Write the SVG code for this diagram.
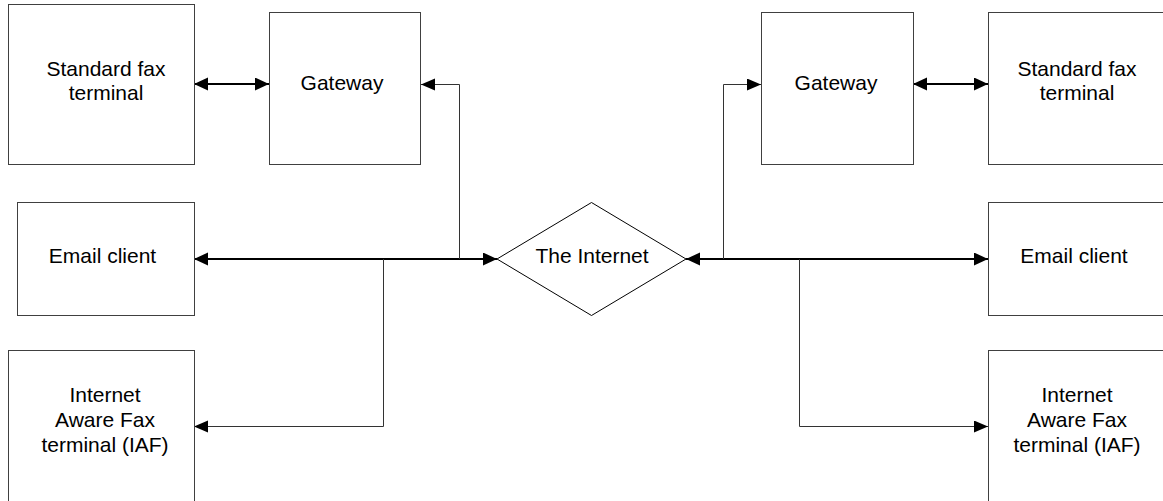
<svg xmlns="http://www.w3.org/2000/svg" width="1163" height="501" viewBox="0 0 1163 501">
<style>
.box{fill:#fff;stroke:#404040;stroke-width:1}
.lbl{font-family:"Liberation Sans",Arial,sans-serif;font-size:21px;fill:#000;text-anchor:middle}
.thick{fill:none;stroke:#000;stroke-width:2}
.thin{fill:none;stroke:#333;stroke-width:1}
</style>
<defs>
<marker id="ah" markerUnits="userSpaceOnUse" markerWidth="15" markerHeight="14" refX="14" refY="6.5" orient="auto-start-reverse" viewBox="0 0 15 14">
<path d="M0,0 L14,6.5 L0,13 Z" fill="#000"/>
</marker>
<marker id="ahs" markerUnits="userSpaceOnUse" markerWidth="15" markerHeight="14" refX="14" refY="6" orient="auto-start-reverse" viewBox="0 0 15 14">
<path d="M0,0 L14,6 L0,12 Z" fill="#000"/>
</marker>
</defs>
<rect width="1163" height="501" fill="#fff"/>
<g id="connectors">
<line class="thick" x1="194" y1="84" x2="269" y2="84" marker-start="url(#ah)" marker-end="url(#ah)"/>
<line class="thick" x1="913" y1="84" x2="988" y2="84" marker-start="url(#ah)" marker-end="url(#ah)"/>
<line class="thick" x1="194" y1="259" x2="497" y2="259" marker-start="url(#ah)" marker-end="url(#ah)"/>
<line class="thick" x1="686" y1="259" x2="988" y2="259" marker-start="url(#ah)" marker-end="url(#ah)"/>
<path class="thin" d="M459.5,259 V84.5 H421" marker-end="url(#ahs)"/>
<path class="thin" d="M723.5,259 V84.5 H761" marker-end="url(#ahs)"/>
<path class="thin" d="M383.5,259 V426.5 H194" marker-end="url(#ahs)"/>
<path class="thin" d="M799.5,259 V426.5 H988" marker-end="url(#ahs)"/>
</g>
<g id="fax-left">
<rect class="box" x="8.5" y="4.5" width="186" height="160"/>
<text class="lbl" x="106" y="76">Standard fax</text>
<text class="lbl" x="106" y="100">terminal</text>
</g>
<g id="gateway-left">
<rect class="box" x="269.5" y="12.5" width="151" height="152"/>
<text class="lbl" x="342" y="90">Gateway</text>
</g>
<g id="gateway-right">
<rect class="box" x="761.5" y="12.5" width="152" height="152"/>
<text class="lbl" x="836" y="90">Gateway</text>
</g>
<g id="fax-right">
<rect class="box" x="988.5" y="12.5" width="200" height="152"/>
<text class="lbl" x="1077" y="76">Standard fax</text>
<text class="lbl" x="1077" y="100">terminal</text>
</g>
<g id="email-left">
<rect class="box" x="17.5" y="202.5" width="177" height="113"/>
<text class="lbl" x="102.5" y="263">Email client</text>
</g>
<g id="internet">
<polygon points="497,259 591.5,202.5 686,259 591.5,315.5" fill="#fff" stroke="#000" stroke-width="1"/>
<text class="lbl" x="592" y="263">The Internet</text>
</g>
<g id="email-right">
<rect class="box" x="988.5" y="202.5" width="200" height="113"/>
<text class="lbl" x="1074" y="263">Email client</text>
</g>
<g id="iaf-left">
<rect class="box" x="8.5" y="350.5" width="186" height="160"/>
<text class="lbl" x="105" y="402">Internet</text>
<text class="lbl" x="105" y="427">Aware Fax</text>
<text class="lbl" x="105" y="452">terminal (IAF)</text>
</g>
<g id="iaf-right">
<rect class="box" x="988.5" y="350.5" width="200" height="160"/>
<text class="lbl" x="1077" y="402">Internet</text>
<text class="lbl" x="1077" y="427">Aware Fax</text>
<text class="lbl" x="1077" y="452">terminal (IAF)</text>
</g>
</svg>
